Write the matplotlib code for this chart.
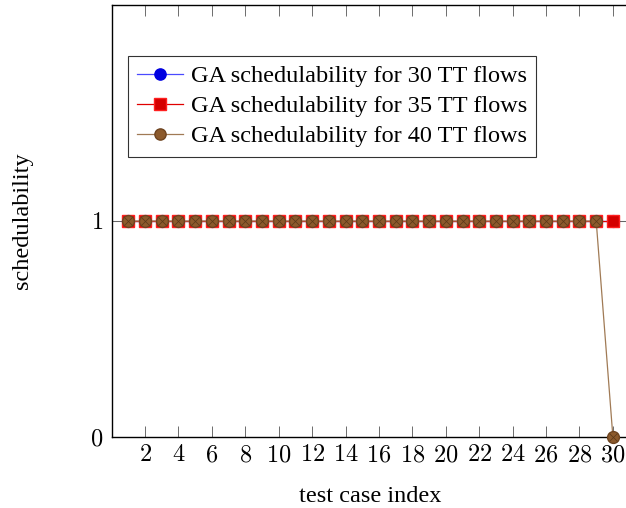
import matplotlib
matplotlib.use("Agg")
import matplotlib.pyplot as plt

x = list(range(1, 31))
sched_30 = [1] * 30
sched_35 = [1] * 30
sched_40 = [1] * 29 + [0]
labels = ["GA schedulability for 30 TT flows",
          "GA schedulability for 35 TT flows",
          "GA schedulability for 40 TT flows"]
xticks = list(range(2, 31, 2))
yticks = [0, 1]

plt.rcParams['font.family'] = ['Liberation Serif', 'DejaVu Serif']
plt.rcParams['mathtext.fontset'] = 'cm'

W, H = 626, 508
fig = plt.figure(figsize=(W / 100, H / 100), dpi=100)
x0px = 111.6
ppu = 16.71
left = x0px / W
right_px = x0px + 31 * ppu
ax = fig.add_axes([left, (H - 437) / H, (right_px - x0px) / W, (437 - 5) / H])
ax.set_xlim(0, 31)
ax.set_ylim(0, 2)

ax.axhline(1, color='#bfbfbf', lw=0.8, zorder=0)

brown = '#8c5a2c'
ms = 8.5
ax.plot(x, sched_30, color='#4a4aff', lw=0.9, marker='o', ms=ms, mfc='#0000e0', mec='#0000e0',
        label=labels[0], zorder=2, clip_on=False)
ax.plot(x, sched_35, color='#e00000', lw=0.9, marker='s', ms=ms, mfc='#d40000', mec='#ff2020',
        label=labels[1], zorder=3, clip_on=False)
ax.plot(x, sched_40, color='#a07a55', lw=0.9, marker='o', ms=ms, mfc=brown, mec='#6e4420',
        label=labels[2], zorder=4, clip_on=False)
ax.plot(x, sched_40, lw=0, marker='x', ms=5.5, mec='#5a3818', mew=0.5, zorder=5, clip_on=False)

ax.set_xticks(xticks)
ax.set_xticklabels([f"${v}$" for v in xticks])
ax.set_yticks(yticks)
ax.set_yticklabels([f"${v}$" for v in yticks])
ax.tick_params(axis='both', direction='in', length=8, width=0.6, color='#555555',
               labelsize=17.5, top=True, right=True)
ax.tick_params(axis='x', pad=6)
ax.tick_params(axis='y', pad=6)
for s in ax.spines.values():
    s.set_linewidth(1.0)
    s.set_color('black')

ax.set_xlabel("test case index", fontsize=17.5, labelpad=14)
ax.set_ylabel("schedulability", fontsize=17.5, labelpad=41)

leg = ax.legend(loc='upper left', bbox_to_anchor=((128 - x0px) / (right_px - x0px), (437 - 56) / 432),
                fontsize=17.5, frameon=True, fancybox=False, edgecolor='black',
                borderpad=0.38, handlelength=1.9, handletextpad=0.3, labelspacing=0.33,
                borderaxespad=0, markerscale=0.95)
leg.get_frame().set_linewidth(0.8)

fig.savefig("out.png", dpi=100)
